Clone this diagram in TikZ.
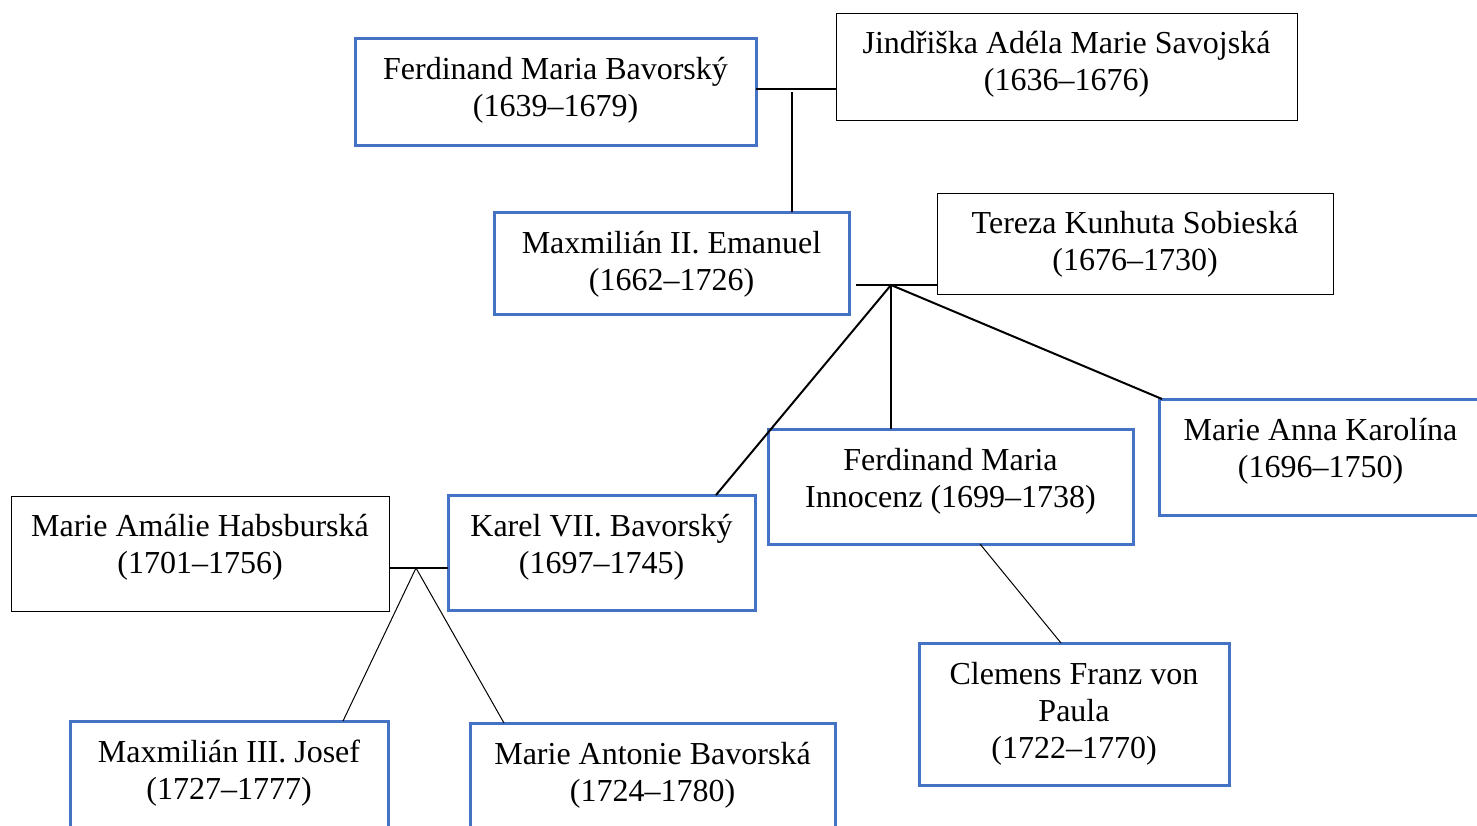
\documentclass[tikz,border=0pt]{standalone}
\usepackage{fontspec}
\setmainfont{Liberation Serif}
\usepackage{tikz}
\usetikzlibrary{positioning,calc}
\definecolor{boxblue}{HTML}{4472C4}
\tikzset{
    blue box/.style={draw=boxblue, line width=3pt, anchor=north west, inner sep=0pt, outer sep=0pt},
    plain box/.style={draw, line width=1pt, anchor=north west, inner sep=0pt, outer sep=0pt},
    name text/.style={anchor=north, align=center, inner sep=0pt, yshift=-15pt,
        font=\fontsize{32}{37}\selectfont},
    marriage/.style={line width=2pt},
    child line/.style={line width=2pt},
    thin line/.style={line width=1pt}
}

\begin{document}
\begin{tikzpicture}[x=1pt, y=-1pt]
    \useasboundingbox (0,0) rectangle (1477,825);

    % first generation
    \node[blue box, minimum width=401pt, minimum height=107pt] (ferdinand) at (355,38) {};
    \node[name text] at (ferdinand.north) {\strut Ferdinand Maria Bavorský\\(1639–1679)};
    \node[plain box, minimum width=461pt, minimum height=107pt] (jindriska) at (836,13) {};
    \node[name text, yshift=1pt] at (jindriska.north) {\strut Jindřiška Adéla Marie Savojská\\(1636–1676)};

    % second generation
    \node[blue box, minimum width=355pt, minimum height=102pt] (max2) at (494,212) {};
    \node[name text] at (max2.north) {\strut Maxmilián II. Emanuel\\(1662–1726)};
    \node[plain box, minimum width=396pt, minimum height=101pt] (tereza) at (937,193) {};
    \node[name text, yshift=1pt] at (tereza.north) {\strut Tereza Kunhuta Sobieská\\(1676–1730)};

    % third generation
    \node[blue box, minimum width=323pt, minimum height=116pt] (marieanna) at (1159,399) {};
    \node[name text] at (marieanna.north) {\strut Marie Anna Karolína\\(1696–1750)};
    \node[blue box, minimum width=365pt, minimum height=115pt] (innocenz) at (768,429) {};
    \node[name text] at (innocenz.north) {\strut Ferdinand Maria\\Innocenz (1699–1738)};
    \node[blue box, minimum width=307pt, minimum height=115pt] (karel) at (448,495) {};
    \node[name text] at (karel.north) {\strut Karel VII. Bavorský\\(1697–1745)};
    \node[plain box, minimum width=378pt, minimum height=115pt] (amalie) at (11,496) {};
    \node[name text, yshift=1pt] at (amalie.north) {\strut Marie Amálie Habsburská\\(1701–1756)};

    % fourth generation
    \node[blue box, minimum width=310pt, minimum height=142pt] (clemens) at (919,643) {};
    \node[name text] at (clemens.north) {\strut Clemens Franz von\\Paula\\(1722–1770)};
    \node[blue box, minimum width=318pt, minimum height=125pt] (max3) at (70,721) {};
    \node[name text] at (max3.north) {\strut Maxmilián III. Josef\\(1727–1777)};
    \node[blue box, minimum width=365pt, minimum height=125pt] (antonie) at (470,723) {};
    \node[name text] at (antonie.north) {\strut Marie Antonie Bavorská\\(1724–1780)};

    % marriages
    \coordinate (m1) at (792,89);
    \coordinate (m2) at (891,285);
    \coordinate (m3) at (416,568);
    \draw[marriage] (ferdinand.east |- m1) -- (jindriska.west |- m1);
    \draw[marriage] ([xshift=7pt]max2.east |- m2) -- (tereza.west |- m2);
    \draw[marriage] (amalie.east |- m3) -- (karel.west |- m3);

    % children
    \draw[child line] ([yshift=-3pt]m1) -- (max2.north -| m1);
    \draw[child line] (m2) -- ([xshift=-39pt]karel.north east);
    \draw[child line] (m2) -- (innocenz.north -| m2);
    \draw[child line] (m2) -- ([xshift=3pt]marieanna.north west);
    \draw[thin line] (m3) -- ([xshift=-45pt]max3.north east);
    \draw[thin line] (m3) -- ([xshift=34pt]antonie.north west);
    \draw[thin line] ([xshift=212pt]innocenz.south west) -- ([xshift=142pt]clemens.north west);
\end{tikzpicture}
\end{document}
